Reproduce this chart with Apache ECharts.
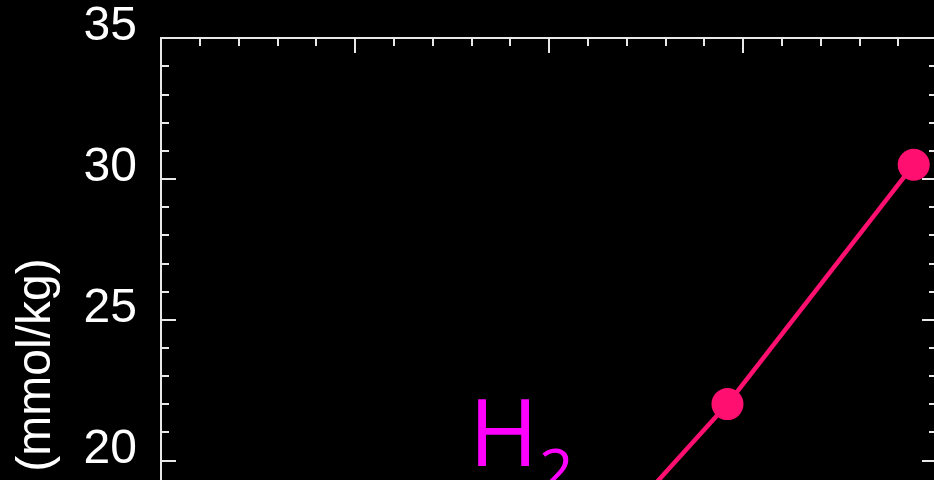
<!DOCTYPE html>
<html>
<head>
<meta charset="utf-8">
<script src="https://cdn.jsdelivr.net/npm/echarts@6/dist/echarts.min.js"></script>
<style>
html,body{margin:0;padding:0;background:#000;}
#chart{width:934px;height:480px;}
</style>
</head>
<body>
<div id="chart"></div>
<script>
// Data
const xValues = [1.96, 2.92, 3.88];
const h2Values = [14.7, 22.0, 30.5];
const seriesName = 'H2';
const yAxisName = '(mmol/kg)';

const chart = echarts.init(document.getElementById('chart'));
const axisColor = '#e8e8e8';
function ticks() {
  return {
    axisLine: {show: true, onZero: false, lineStyle: {color: axisColor, width: 2}},
    axisTick: {show: true, inside: true, length: 15, lineStyle: {color: axisColor, width: 2}},
    minorTick: {show: true, splitNumber: 5, length: 8, lineStyle: {color: axisColor, width: 2}},
    splitLine: {show: false}
  };
}
const option = {
  backgroundColor: '#000',
  animation: false,
  grid: {left: 161, top: 38, width: 776, height: 704, outerBoundsMode: 'none', containLabel: false},
  xAxis: [
    Object.assign({type: 'value', position: 'bottom', min: 0, max: 4, interval: 1,
      axisLabel: {show: false}}, ticks()),
    Object.assign({type: 'value', position: 'top', min: 0, max: 4, interval: 1,
      axisLabel: {show: false}}, ticks())
  ],
  yAxis: [
    Object.assign({type: 'value', position: 'left', min: 10, max: 35, interval: 5,
      axisLabel: {show: true, color: '#fff', fontSize: 48, fontFamily: '"Liberation Sans", Arial',
        margin: 24, verticalAlign: 'bottom', lineHeight: 22}}, ticks()),
    Object.assign({type: 'value', position: 'right', min: 10, max: 35, interval: 5,
      axisLabel: {show: false}}, ticks())
  ],
  graphic: [
    {type: 'text', x: 37, y: 365, rotation: Math.PI / 2,
      style: {text: yAxisName, fill: '#fff', font: '48px "Liberation Sans", Arial',
        align: 'center', verticalAlign: 'middle'}},
    {type: 'text', x: 469, y: 439,
      style: {text: 'H', fill: '#ff00ff', font: '94px "Open Sans"', align: 'left', verticalAlign: 'middle'}},
    {type: 'text', x: 539, y: 475,
      style: {text: '2', fill: '#ff00ff', font: '60px "Open Sans"', align: 'left', verticalAlign: 'middle'}}
  ],
  series: [{
    name: seriesName,
    type: 'line',
    data: xValues.map((x, i) => [x, h2Values[i]]),
    symbol: 'circle',
    symbolSize: 32,
    lineStyle: {color: '#ff1070', width: 4.5},
    itemStyle: {color: '#ff1070'},
    clip: false
  }]
};
chart.setOption(option);
</script>
</body>
</html>
